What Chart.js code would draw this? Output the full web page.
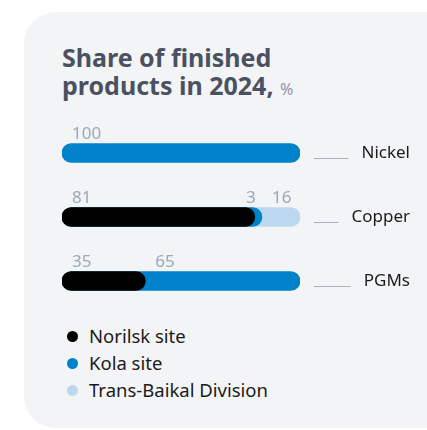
<!DOCTYPE html>
<html>
<head>
<meta charset="utf-8">
<script src="https://cdn.jsdelivr.net/npm/chart.js@4"></script>
<style>
  html, body { margin: 0; padding: 0; background: #fff; width: 427px; height: 430px; overflow: hidden; }
  body { font-family: "Noto Sans", sans-serif; position: relative; }
  .card { position: absolute; left: 24px; top: 12px; width: 440px; height: 416px; background: #f3f4f6; border-radius: 32px; }
  h2 { position: absolute; left: 62px; top: 43px; margin: 0; font-size: 25px; line-height: 28px; font-weight: 700; color: #4a5261; white-space: nowrap; }
  h2 span { font-size: 16px; font-weight: 400; color: #8a94a6; }
  #chartWrap { position: absolute; left: 0; top: 121px; width: 427px; height: 192px; }
  .legend { position: absolute; left: 67px; top: 322px; margin: 0; padding: 0; list-style: none; }
  .legend li { font-size: 18.5px; line-height: 27px; color: #1b1b1b; white-space: nowrap; }
  .legend i { display: inline-block; width: 11px; height: 11px; border-radius: 50%; margin-right: 11px; vertical-align: 1px; }
</style>
</head>
<body>
<div class="card"></div>
<h2>Share of finished<br>products in 2024, <span>%</span></h2>
<div id="chartWrap"><canvas id="shares"></canvas></div>
<ul class="legend" id="legend"></ul>

<script>
const products = ['Nickel', 'Copper', 'PGMs'];
const sites = ['Norilsk site', 'Kola site', 'Trans-Baikal Division'];
const siteColors = ['#000000', '#0082ca', '#bcd8f1'];

const norilsk = [0, 81, 35];
const kola = [100, 3, 65];
const transBaikal = [0, 16, 0];

const shares = [norilsk, kola, transBaikal];

// each segment runs from 0 to its cumulative end, so the rounded ends overlap
let starts = shares.map(() => []);
let ends = shares.map(() => []);
products.forEach((p, j) => {
    let sum = 0;
    shares.forEach((row, i) => {
        starts[i][j] = sum;
        sum += row[j];
        ends[i][j] = sum;
    });
});

const datasets = shares.map((row, i) => ({
    label: sites[i],
    data: row.map((v, j) => v > 0 ? [0, ends[i][j]] : null),
    backgroundColor: siteColors[i],
    borderRadius: 10,
    borderSkipped: false,
    barThickness: 19,
    grouped: false
}));

// numbers above bars + product names on the right
const barLabels = {
    id: 'barLabels',
    afterDatasetsDraw(chart) {
        const ctx = chart.ctx;
        const x = chart.scales.x;
        ctx.save();
        ctx.font = '17px "Noto Sans"';
        ctx.fillStyle = '#9ba7bb';
        ctx.textBaseline = 'alphabetic';
        shares.forEach((row, i) => {
            const meta = chart.getDatasetMeta(i);
            row.forEach((v, j) => {
                if (!v) return;
                const bar = meta.data[j];
                const top = bar.y - bar.height / 2;
                let px = x.getPixelForValue(starts[i][j]);
                if (v < 8) {
                    ctx.textAlign = 'right';
                    px += 1;
                } else {
                    ctx.textAlign = 'left';
                    px += 10;
                }
                ctx.fillText(String(v), px, top - 5);
            });
        });

        const right = 410;
        ctx.font = '17px "Noto Sans"';
        ctx.fillStyle = '#1b1b1b';
        ctx.textAlign = 'right';
        ctx.textBaseline = 'middle';
        const meta = chart.getDatasetMeta(1);
        products.forEach((p, j) => {
            const y = meta.data[j].y;
            ctx.fillText(p, right, y);
            const w = ctx.measureText(p).width;
            ctx.strokeStyle = '#a7b2c5';
            ctx.lineWidth = 1;
            ctx.beginPath();
            ctx.moveTo(314, Math.round(y + 5) + 0.5);
            ctx.lineTo(right - w - 13, Math.round(y + 5) + 0.5);
            ctx.stroke();
        });
        ctx.restore();
    }
};

new Chart(document.getElementById('shares'), {
    type: 'bar',
    data: { labels: products, datasets: datasets },
    options: {
        indexAxis: 'y',
        responsive: true,
        maintainAspectRatio: false,
        animation: false,
        layout: { padding: { left: 62, right: 127, top: 0, bottom: 0 } },
        scales: {
            x: { display: false, min: 0, max: 100 },
            y: { display: false }
        },
        plugins: {
            legend: { display: false },
            tooltip: { enabled: false }
        }
    },
    plugins: [barLabels]
});

const legend = document.getElementById('legend');
sites.forEach((s, i) => {
    const li = document.createElement('li');
    li.innerHTML = '<i style="background:' + siteColors[i] + '"></i>' + s;
    legend.appendChild(li);
});
</script>
</body>
</html>
